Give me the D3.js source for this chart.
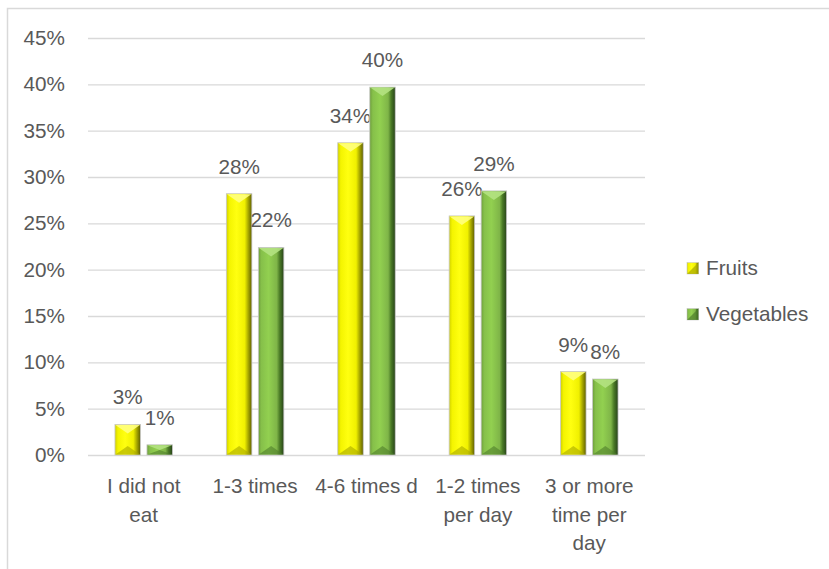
<!DOCTYPE html>
<html><head><meta charset="utf-8">
<script src="https://cdn.jsdelivr.net/npm/d3@7/dist/d3.min.js"></script>
<style>body{margin:0;background:#fff}svg{display:block}text{font-family:"Liberation Sans",Arial,sans-serif;fill:#595959}</style>
</head><body><svg id="c" width="829" height="569"></svg>
<script>
const categories = ["I did not eat","1-3 times","4-6 times d","1-2 times per day","3 or more time per day"];
const categoryLines = [["I did not","eat"],["1-3 times"],["4-6 times d"],["1-2 times","per day"],["3 or more","time per","day"]];
const fruits = [3.3, 28.2, 33.7, 25.8, 9.0];
const vegetables = [1.1, 22.4, 39.7, 28.5, 8.2];
const seriesNames = ["Fruits","Vegetables"];
const yTicks = [0,5,10,15,20,25,30,35,40,45];

const svg = d3.select("#c");
const W = 829, H = 569;
const pLeft = 88, pRight = 645, pTop = 38, pBottom = 455;
const FS = "20.7px";

// frame
svg.append("path").attr("d", `M7.5,${H+2} L7.5,8.5 L${W+2},8.5`).attr("fill","none").attr("stroke","#d9d9d9").attr("stroke-width",1.5);

const y = d3.scaleLinear().domain([0,45]).range([pBottom, pTop]);
const x = d3.scaleBand().domain(categories).range([pLeft, pRight]).padding(0);

// y axis + gridlines
const ya = svg.append("g").attr("transform",`translate(${pLeft},0)`)
  .call(d3.axisLeft(y).tickValues(yTicks).tickFormat(d=>d+"%").tickSizeInner(-(pRight-pLeft)).tickSizeOuter(0).tickPadding(23));
ya.select(".domain").remove();
ya.selectAll(".tick line").attr("stroke","#d9d9d9").attr("stroke-width",1.3);
ya.selectAll(".tick text").style("font-size",FS).attr("fill","#595959").style("font-family","Liberation Sans, Arial, sans-serif");

// gradients
const defs = svg.append("defs");
function grad(id, stops){
  const g = defs.append("linearGradient").attr("id",id).attr("x1","0").attr("x2","1").attr("y1","0").attr("y2","0");
  stops.forEach(s=>g.append("stop").attr("offset",s[0]).attr("stop-color",s[1]));
}
grad("gF",[[0,"#d0d000"],[0.12,"#f4f400"],[0.4,"#ffff10"],[0.72,"#f0f000"],[0.84,"#b0b000"],[1,"#5e5e00"]]);
grad("gV",[[0,"#6e9e3c"],[0.12,"#86c04a"],[0.4,"#92d050"],[0.72,"#7fb548"],[0.84,"#4a7a26"],[1,"#27421a"]]);

const bw = 25.5, gap = 6.5;
const series = [
  {name:seriesNames[0], vals:fruits, fill:"url(#gF)", topc:"#ffff80", botc:"#a8a800", off:-(bw+gap/2)},
  {name:seriesNames[1], vals:vegetables, fill:"url(#gV)", topc:"#b4e282", botc:"#4f7d2c", off:gap/2}
];

series.forEach(s=>{
  const g = svg.append("g");
  const bars = g.selectAll("g").data(categories).join("g");
  bars.each(function(c,i){
    const v = s.vals[i];
    const cx = x(c) + x.bandwidth()/2;
    const x0 = cx + s.off, x1 = x0 + bw, y0 = y(v), y1 = y(0);
    const sel = d3.select(this);
    sel.append("rect").attr("x",x0).attr("y",y0).attr("width",bw).attr("height",y1-y0)
      .attr("fill",s.fill).attr("stroke","#c8c8c8").attr("stroke-width",0.8);
    const bv = Math.min(9,(y1-y0)/2);
    const bm = x0 + bw/2;
    sel.append("path").attr("d",`M${x0+0.5},${y0+0.5} L${x1-0.5},${y0+0.5} L${bm},${y0+bv} Z`).attr("fill",s.topc).attr("opacity",0.9);
    sel.append("path").attr("d",`M${x0+0.5},${y1-0.5} L${x1-0.5},${y1-0.5} L${bm},${y1-bv} Z`).attr("fill",s.botc).attr("opacity",0.6);
    svg.append("text").attr("x",cx + s.off + bw/2).attr("y",y0-20).attr("text-anchor","middle")
      .style("font-size",FS).text(Math.round(v)+"%");
  });
});

// x labels
categories.forEach((c,i)=>{
  const t = svg.append("text").attr("text-anchor","middle").style("font-size",FS)
    .attr("x", x(c)+x.bandwidth()/2).attr("y",493);
  categoryLines[i].forEach((ln,j)=>{
    t.append("tspan").attr("x", x(c)+x.bandwidth()/2).attr("y",493+j*28.5).text(ln);
  });
});

// legend
const lg = svg.append("g");
series.forEach((s,i)=>{
  const ly = 268 + i*46;
  lg.append("rect").attr("x",687).attr("y",ly-5.5).attr("width",11.5).attr("height",11.5).attr("fill",s.fill).attr("stroke","#c8c8c8").attr("stroke-width",0.6);
  lg.append("path").attr("d",`M687,${ly+6} L698.5,${ly-5.5} L698.5,${ly+6} Z`).attr("fill",s.botc).attr("opacity",0.7);
  lg.append("text").attr("x",706).attr("y",ly+7).style("font-size",FS).text(s.name);
});
</script></body></html>
